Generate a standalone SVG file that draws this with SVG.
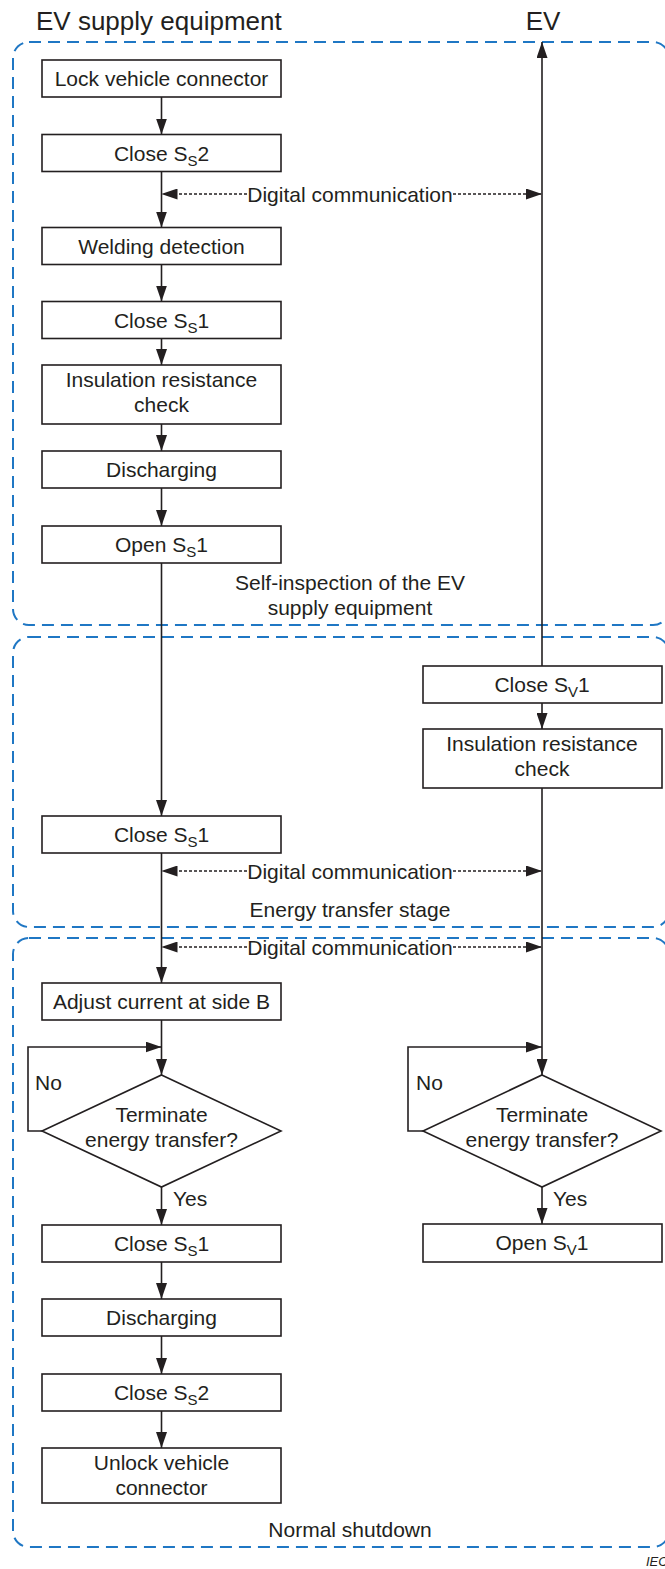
<svg xmlns="http://www.w3.org/2000/svg" width="665" height="1569" viewBox="0 0 665 1569">
<style>
.bg{fill:#ffffff}
.box{fill:#ffffff;stroke:#231f20;stroke-width:1.6}
.stage{fill:none;stroke:#1f77c4;stroke-width:2;stroke-dasharray:12 7}
.ln{fill:none;stroke:#231f20;stroke-width:1.6}
.dot{fill:none;stroke:#231f20;stroke-width:1.4;stroke-dasharray:3 2}
text{font-family:"Liberation Sans",Arial,sans-serif;font-size:21px;fill:#231f20}
.c{text-anchor:middle}
.hdr{font-size:26px}
.sub{font-size:15px}
.iec{font-size:13px;font-style:italic}
</style>
<defs>
<marker id="ah" viewBox="0 0 16 11" refX="16" refY="5.5" markerWidth="16" markerHeight="11" markerUnits="userSpaceOnUse" orient="auto-start-reverse">
<path d="M0,0 L16,5.5 L0,11 z" fill="#231f20"/>
</marker>
</defs>
<rect class="bg" x="0" y="0" width="665" height="1569"/>

<g id="stages">
<rect class="stage" x="13" y="42" width="656" height="583" rx="16"/>
<rect class="stage" x="13" y="637" width="656" height="290" rx="16"/>
<rect class="stage" x="13" y="938" width="656" height="609" rx="16"/>
<text class="c" x="350" y="590">Self-inspection of the EV</text>
<text class="c" x="350" y="615">supply equipment</text>
<text class="c" x="350" y="917">Energy transfer stage</text>
<text class="c" x="350" y="1537">Normal shutdown</text>
</g>

<g id="headers">
<text class="hdr" x="36" y="30">EV supply equipment</text>
<text class="hdr c" x="543" y="30">EV</text>
</g>

<g id="connectors">
<line class="ln" x1="161.5" y1="97" x2="161.5" y2="134.5" marker-end="url(#ah)"/>
<line class="ln" x1="161.5" y1="171.5" x2="161.5" y2="227.5" marker-end="url(#ah)"/>
<line class="ln" x1="161.5" y1="264.5" x2="161.5" y2="301.5" marker-end="url(#ah)"/>
<line class="ln" x1="161.5" y1="338.5" x2="161.5" y2="365" marker-end="url(#ah)"/>
<line class="ln" x1="161.5" y1="424" x2="161.5" y2="451" marker-end="url(#ah)"/>
<line class="ln" x1="161.5" y1="488" x2="161.5" y2="526" marker-end="url(#ah)"/>
<line class="ln" x1="161.5" y1="563" x2="161.5" y2="816" marker-end="url(#ah)"/>
<line class="ln" x1="161.5" y1="853" x2="161.5" y2="983" marker-end="url(#ah)"/>
<line class="ln" x1="161.5" y1="1020" x2="161.5" y2="1075" marker-end="url(#ah)"/>
<polyline class="ln" points="42,1131 28,1131 28,1047 161.5,1047" marker-end="url(#ah)"/>
<line class="ln" x1="161.5" y1="1187" x2="161.5" y2="1225" marker-end="url(#ah)"/>
<line class="ln" x1="161.5" y1="1262" x2="161.5" y2="1299" marker-end="url(#ah)"/>
<line class="ln" x1="161.5" y1="1336" x2="161.5" y2="1374" marker-end="url(#ah)"/>
<line class="ln" x1="161.5" y1="1411" x2="161.5" y2="1448" marker-end="url(#ah)"/>

<line class="ln" x1="542" y1="666" x2="542" y2="42" marker-end="url(#ah)"/>
<line class="ln" x1="542" y1="703" x2="542" y2="729" marker-end="url(#ah)"/>
<line class="ln" x1="542" y1="788" x2="542" y2="1075" marker-end="url(#ah)"/>
<polyline class="ln" points="423,1131 408,1131 408,1047 542,1047" marker-end="url(#ah)"/>
<line class="ln" x1="542" y1="1187" x2="542" y2="1224" marker-end="url(#ah)"/>

<line class="dot" x1="247" y1="194" x2="161.5" y2="194" marker-end="url(#ah)"/>
<line class="dot" x1="453" y1="194" x2="542" y2="194" marker-end="url(#ah)"/>
<text class="c" x="350" y="201.5">Digital communication</text>
<line class="dot" x1="247" y1="871" x2="161.5" y2="871" marker-end="url(#ah)"/>
<line class="dot" x1="453" y1="871" x2="542" y2="871" marker-end="url(#ah)"/>
<text class="c" x="350" y="878.5">Digital communication</text>
<line class="dot" x1="247" y1="947" x2="161.5" y2="947" marker-end="url(#ah)"/>
<line class="dot" x1="453" y1="947" x2="542" y2="947" marker-end="url(#ah)"/>
<text class="c" x="350" y="954.5">Digital communication</text>

<text x="35" y="1090">No</text>
<text x="173" y="1206">Yes</text>
<text x="416" y="1090">No</text>
<text x="553" y="1206">Yes</text>
</g>

<g id="lock">
<rect class="box" x="42" y="60" width="239" height="37"/>
<text class="c" x="161.5" y="86">Lock vehicle connector</text>
</g>
<g id="close-ss2-a">
<rect class="box" x="42" y="134.5" width="239" height="37"/>
<text class="c" x="161.5" y="160.5">Close S<tspan class="sub" dy="5">S</tspan><tspan dy="-5">2</tspan></text>
</g>
<g id="welding">
<rect class="box" x="42" y="227.5" width="239" height="37"/>
<text class="c" x="161.5" y="253.5">Welding detection</text>
</g>
<g id="close-ss1-a">
<rect class="box" x="42" y="301.5" width="239" height="37"/>
<text class="c" x="161.5" y="327.5">Close S<tspan class="sub" dy="5">S</tspan><tspan dy="-5">1</tspan></text>
</g>
<g id="insulation-a">
<rect class="box" x="42" y="365" width="239" height="59"/>
<text class="c" x="161.5" y="387">Insulation resistance</text>
<text class="c" x="161.5" y="412">check</text>
</g>
<g id="discharging-a">
<rect class="box" x="42" y="451" width="239" height="37"/>
<text class="c" x="161.5" y="477">Discharging</text>
</g>
<g id="open-ss1">
<rect class="box" x="42" y="526" width="239" height="37"/>
<text class="c" x="161.5" y="552">Open S<tspan class="sub" dy="5">S</tspan><tspan dy="-5">1</tspan></text>
</g>
<g id="close-ss1-b">
<rect class="box" x="42" y="816" width="239" height="37"/>
<text class="c" x="161.5" y="842">Close S<tspan class="sub" dy="5">S</tspan><tspan dy="-5">1</tspan></text>
</g>
<g id="adjust">
<rect class="box" x="42" y="983" width="239" height="37"/>
<text class="c" x="161.5" y="1009">Adjust current at side B</text>
</g>
<g id="terminate-a">
<polygon class="box" points="161.5,1075 281,1131 161.5,1187 42,1131"/>
<text class="c" x="161.5" y="1122">Terminate</text>
<text class="c" x="161.5" y="1147">energy transfer?</text>
</g>
<g id="close-ss1-c">
<rect class="box" x="42" y="1225" width="239" height="37"/>
<text class="c" x="161.5" y="1251">Close S<tspan class="sub" dy="5">S</tspan><tspan dy="-5">1</tspan></text>
</g>
<g id="discharging-b">
<rect class="box" x="42" y="1299" width="239" height="37"/>
<text class="c" x="161.5" y="1325">Discharging</text>
</g>
<g id="close-ss2-b">
<rect class="box" x="42" y="1374" width="239" height="37"/>
<text class="c" x="161.5" y="1400">Close S<tspan class="sub" dy="5">S</tspan><tspan dy="-5">2</tspan></text>
</g>
<g id="unlock">
<rect class="box" x="42" y="1448" width="239" height="55"/>
<text class="c" x="161.5" y="1470">Unlock vehicle</text>
<text class="c" x="161.5" y="1495">connector</text>
</g>

<g id="close-sv1">
<rect class="box" x="423" y="666" width="239" height="37"/>
<text class="c" x="542" y="692">Close S<tspan class="sub" dy="5">V</tspan><tspan dy="-5">1</tspan></text>
</g>
<g id="insulation-b">
<rect class="box" x="423" y="729" width="239" height="59"/>
<text class="c" x="542" y="751">Insulation resistance</text>
<text class="c" x="542" y="776">check</text>
</g>
<g id="terminate-b">
<polygon class="box" points="542,1075 661,1131 542,1187 423,1131"/>
<text class="c" x="542" y="1122">Terminate</text>
<text class="c" x="542" y="1147">energy transfer?</text>
</g>
<g id="open-sv1">
<rect class="box" x="423" y="1224" width="239" height="38"/>
<text class="c" x="542" y="1250">Open S<tspan class="sub" dy="5">V</tspan><tspan dy="-5">1</tspan></text>
</g>

<text class="iec" x="646" y="1566">IEC</text>
</svg>
